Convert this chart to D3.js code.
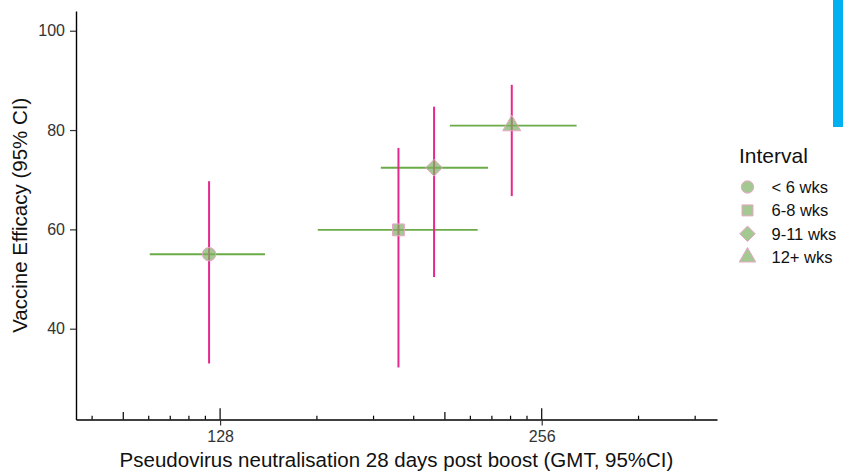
<!DOCTYPE html>
<html>
<head>
<meta charset="utf-8">
<script src="https://cdn.jsdelivr.net/npm/d3@7"></script>
<style>
  html, body { margin: 0; padding: 0; background: #fff; }
  svg { display: block; font-family: "Liberation Sans", Arial, sans-serif; }
</style>
</head>
<body>
<svg id="chart" width="843" height="472"></svg>
<script>
// Booster interval groups: GMT (with 95% CI) against vaccine efficacy (with 95% CI)
const intervals = ["< 6 wks", "6-8 wks", "9-11 wks", "12+ wks"];
const gmt      = [125, 188, 203, 240];
const gmtLow   = [110, 158, 181, 210];
const gmtHigh  = [141, 223, 228, 276];
const efficacy = [55.0, 59.9, 72.4, 80.9];
const effLow   = [33.0, 32.2, 50.4, 66.7];
const effHigh  = [69.7, 76.4, 84.7, 89.1];
const xTicks = [128, 256];
const yTicks = [40, 60, 80, 100];

(function () {
  const svg = d3.select("#chart");
  const pL = 76, pR = 717, pT = 11, pB = 419.5;

  // log2 x scale; y linear
  const x = d3.scaleLog().base(2).domain([Math.pow(2, 6.552), Math.pow(2, 8.545)]).range([pL, pR]);
  const y = d3.scaleLinear().domain([21.72, 103.97]).range([pB, pT]);

  const rows = intervals.map((k, i) => ({
    key: k, gmt: gmt[i], lo: gmtLow[i], hi: gmtHigh[i],
    ve: efficacy[i], veLo: effLow[i], veHi: effHigh[i]
  }));

  // corner accent bar
  svg.append("rect").attr("x", 833).attr("y", 0).attr("width", 10).attr("height", 127)
    .attr("fill", "#00b0f0");

  // log-style minor ticks along the bottom, on the log2 axis
  const logX = d3.scaleLinear().domain([6.552, 8.545]).range([pL, pR]);
  const minorTicks = [];
  for (let k = 6; k <= 8; k++) {
    for (let n = 1; n <= 9; n++) {
      const t = Math.log10(n) + k;
      if (t >= 6.552 && t <= 8.545) minorTicks.push({ t, len: n === 1 ? 11.3 : (n === 5 ? 7.6 : 3.8) });
    }
  }
  svg.append("g").selectAll("line").data(minorTicks).join("line")
    .attr("x1", d => logX(d.t)).attr("x2", d => logX(d.t))
    .attr("y1", pB).attr("y2", d => pB - d.len)
    .attr("stroke", "#000").attr("stroke-width", 1.2);

  // axes
  const xAxis = svg.append("g").attr("transform", `translate(0,${pB})`)
    .call(d3.axisBottom(x).tickValues(xTicks).tickFormat(d3.format("d")).tickSize(6).tickSizeOuter(0).tickPadding(5));
  const yAxis = svg.append("g").attr("transform", `translate(${pL},0)`)
    .call(d3.axisLeft(y).tickValues(yTicks).tickSize(6).tickSizeOuter(0).tickPadding(5));
  [xAxis, yAxis].forEach(g => {
    g.select(".domain").attr("stroke", "#000").attr("stroke-width", 1.4);
    g.selectAll(".tick line").attr("stroke", "#333").attr("stroke-width", 1.2);
    g.selectAll(".tick text").attr("fill", "#333").style("font-size", "16px")
      .style("font-family", "'Liberation Sans', Arial, sans-serif");
  });

  // axis titles
  svg.append("text").attr("x", (pL + pR) / 2).attr("y", 467)
    .attr("text-anchor", "middle").attr("fill", "#111").style("font-size", "20.5px")
    .text("Pseudovirus neutralisation 28 days post boost (GMT, 95%CI)");
  svg.append("text").attr("transform", `translate(27,${(pT + pB) / 2}) rotate(-90)`)
    .attr("text-anchor", "middle").attr("fill", "#111").style("font-size", "20.5px")
    .text("Vaccine Efficacy (95% CI)");

  // horizontal CI (GMT)
  svg.append("g").selectAll("line").data(rows).join("line")
    .attr("x1", d => x(d.lo)).attr("x2", d => x(d.hi))
    .attr("y1", d => y(d.ve)).attr("y2", d => y(d.ve))
    .attr("stroke", "#6aab47").attr("stroke-width", 1.9);

  // vertical CI (efficacy)
  svg.append("g").selectAll("line").data(rows).join("line")
    .attr("x1", d => x(d.gmt)).attr("x2", d => x(d.gmt))
    .attr("y1", d => y(d.veLo)).attr("y2", d => y(d.veHi))
    .attr("stroke", "#e6278e").attr("stroke-width", 2);

  // marker shapes per interval
  const diamond = {
    draw(ctx, size) {
      const r = Math.sqrt(size / 2);
      ctx.moveTo(0, -r); ctx.lineTo(r, 0); ctx.lineTo(0, r); ctx.lineTo(-r, 0); ctx.closePath();
    }
  };
  const shape = d3.scaleOrdinal().domain(intervals)
    .range([d3.symbolCircle, d3.symbolSquare, diamond, d3.symbolTriangle]);

  svg.append("g").selectAll("path").data(rows).join("path")
    .attr("transform", d => `translate(${x(d.gmt)},${y(d.ve)})`)
    .attr("d", d => d3.symbol(shape(d.key), 140)())
    .attr("fill", "#7eb062").attr("fill-opacity", 0.7)
    .attr("stroke", "#e8a6c6").attr("stroke-width", 1);

  // legend
  const lg = svg.append("g");
  lg.append("text").attr("x", 739).attr("y", 163).attr("fill", "#111")
    .style("font-size", "21px").text("Interval");
  const items = lg.selectAll("g.item").data(intervals).join("g").attr("class", "item")
    .attr("transform", (d, i) => `translate(747.5,${187 + i * 23.4})`);
  items.append("path").attr("d", d => d3.symbol(shape(d), 120)())
    .attr("fill", "#7eb062").attr("fill-opacity", 0.7)
    .attr("stroke", "#e8a6c6").attr("stroke-width", 1);
  items.append("text").attr("x", 24).attr("y", 6).attr("fill", "#111")
    .style("font-size", "16.5px").text(d => d);
})();
</script>
</body>
</html>
